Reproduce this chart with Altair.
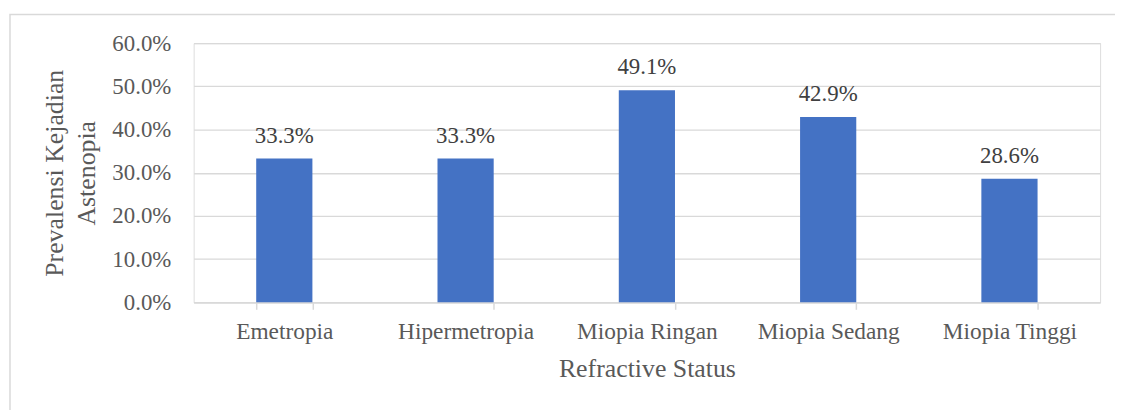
import altair as alt
import pandas as pd

categories = ["Emetropia", "Hipermetropia", "Miopia Ringan", "Miopia Sedang", "Miopia Tinggi"]
values = [0.333, 0.333, 0.491, 0.429, 0.286]
y_ticks = [0.0, 0.1, 0.2, 0.3, 0.4, 0.5, 0.6]

df = pd.DataFrame({"status": categories, "prev": values})

FONT = "Liberation Serif, Times New Roman, serif"
GRID = "#d9d9d9"

x_enc = alt.X(
    "status:N",
    sort=categories,
    scale=alt.Scale(paddingInner=0.69, paddingOuter=0.345),
    axis=alt.Axis(
        title="Refractive Status",
        labelAngle=0,
        labelFont=FONT,
        labelFontSize=23.5,
        labelColor="#595959",
        labelPadding=10,
        titleFont=FONT,
        titleFontSize=26,
        titleFontWeight="normal",
        titleColor="#595959",
        titlePadding=13,
        domainColor=GRID,
        domainWidth=1.5,
        tickColor=GRID,
        tickWidth=1.5,
        tickSize=7,
        tickBand="extent",
        grid=False,
    ),
)

y_enc = alt.Y(
    "prev:Q",
    scale=alt.Scale(domain=[0, 0.6], nice=False),
    axis=alt.Axis(
        title=["Prevalensi Kejadian", "Astenopia"],
        values=y_ticks,
        format=".1%",
        labelFont=FONT,
        labelFontSize=23,
        labelColor="#595959",
        labelPadding=23,
        titleFont=FONT,
        titleFontSize=26,
        titleFontWeight="normal",
        titleColor="#595959",
        titlePadding=12,
        titleLineHeight=33,
        domain=False,
        ticks=False,
        grid=True,
        gridColor=GRID,
        gridWidth=1.3,
    ),
)

base = alt.Chart(df)

bars = base.mark_bar(color="#4472C4").encode(x=x_enc, y=y_enc)

labels = base.mark_text(
    font=FONT, fontSize=23, color="#404040", baseline="alphabetic", dy=-16
).encode(
    x=alt.X("status:N", sort=categories),
    y=alt.Y("prev:Q"),
    text=alt.Text("prev:Q", format=".1%"),
)

frame = alt.Chart(pd.DataFrame({"a": [0]})).mark_rect(
    fill=None, stroke=GRID, strokeWidth=1.5
).encode(
    x=alt.value(-185), x2=alt.value(940), y=alt.value(-29), y2=alt.value(400)
)

chart = (
    alt.layer(frame, bars, labels)
    .properties(
        width=913,
        height=261,
        autosize=alt.AutoSizeParams(type="none"),
        padding={"left": 187, "top": 34, "right": 15, "bottom": 107},
    )
    .configure_view(stroke=None)
    .configure(background="white", font=FONT)
    .configure_text(font=FONT)
)

chart.save("out.html", embed_options={"renderer": "svg", "actions": False})
